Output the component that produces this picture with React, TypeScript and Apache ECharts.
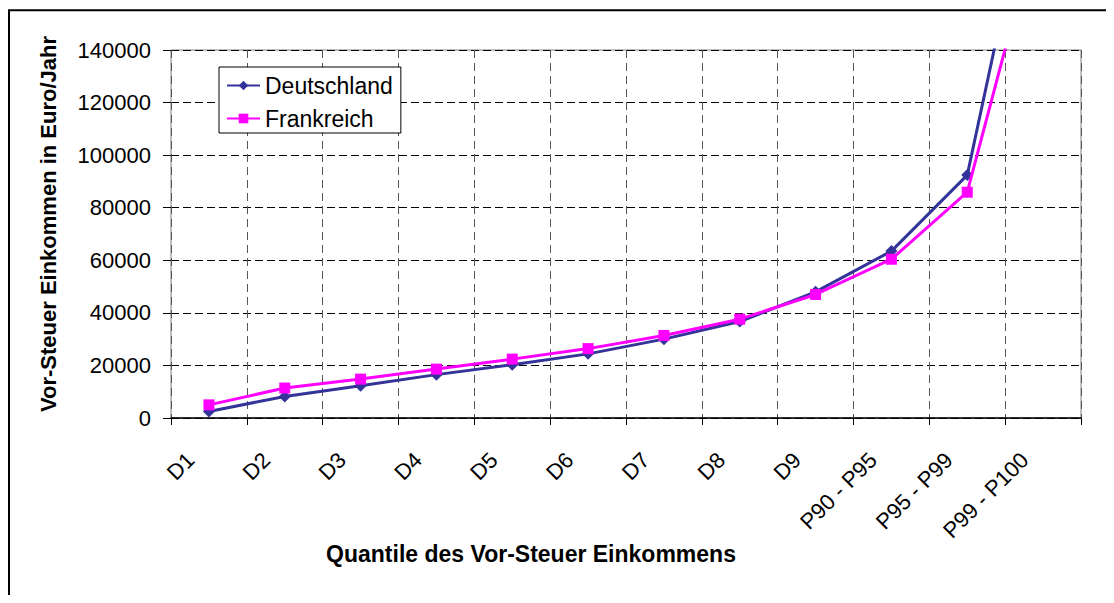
import React, { useEffect, useRef } from "react";
import * as echarts from "echarts";

const categories = ["D1", "D2", "D3", "D4", "D5", "D6", "D7", "D8", "D9", "P90 - P95", "P95 - P99", "P99 - P100"];
const deutschland = [2500, 8200, 12300, 16500, 20300, 24400, 30000, 36700, 48000, 63500, 92400, 227000];
const frankreich = [5000, 11400, 14800, 18600, 22400, 26400, 31400, 37600, 47000, 60400, 85900, 195000];
const yMin = 0;
const yMax = 140000;
const yStep = 20000;

const FONT = "'Liberation Sans', Arial, sans-serif";

export default function App() {
  const ref = useRef<HTMLDivElement>(null);
  useEffect(() => {
    if (!ref.current) return;
    const chart = echarts.init(ref.current, null, { renderer: "svg" });
    chart.setOption({
      animation: false,
      backgroundColor: "#fff",
      textStyle: { fontFamily: FONT },
      grid: {
        left: 163,
        top: 42,
        width: 910,
        height: 368,
        show: true,
        borderColor: "#808080",
        borderWidth: 1,
        backgroundColor: "transparent",
      },
      legend: {
        orient: "vertical",
        left: 211,
        top: 59,
        padding: [7, 8, 3, 7],
        itemGap: 10,
        itemWidth: 33,
        itemHeight: 12,
        backgroundColor: "#fff",
        borderColor: "#000",
        borderWidth: 1,
        borderRadius: 0,
        textStyle: { fontSize: 23, color: "#000", fontFamily: FONT },
        data: ["Deutschland", "Frankreich"],
      },
      xAxis: {
        type: "category",
        data: categories,
        boundaryGap: true,
        axisLine: { show: true, lineStyle: { color: "#000", width: 1.5 } },
        axisTick: { show: true, length: 7, inside: false, lineStyle: { color: "#000" } },
        axisLabel: {
          rotate: 45,
          interval: 0,
          margin: 20,
          padding: [0, 26, 0, 0],
          fontSize: 22,
          color: "#000",
          fontFamily: FONT,
        },
        splitLine: { show: true, lineStyle: { color: "#555", type: [8, 5], width: 1 } },
      },
      yAxis: {
        type: "value",
        min: yMin,
        max: yMax,
        interval: yStep,
        axisLine: { show: false },
        axisTick: { show: true, length: 8, lineStyle: { color: "#000" } },
        axisLabel: {
          margin: 20,
          fontSize: 22,
          color: "#000",
          fontFamily: FONT,
          formatter: (v: number) => String(v),
        },
        splitLine: { show: true, lineStyle: { color: "#000", type: [8, 4], width: 1 } },
      },
      graphic: [
        {
          type: "rect",
          silent: true,
          z: -1,
          shape: { x: 1, y: 2.3, width: 3000, height: 3000 },
          style: { fill: "none", stroke: "#000", lineWidth: 2 },
        },
        {
          type: "text",
          x: 40,
          y: 216,
          rotation: Math.PI / 2,
          style: {
            text: "Vor-Steuer Einkommen in Euro/Jahr",
            fontSize: 22,
            fontWeight: "bold",
            fontFamily: FONT,
            fill: "#000",
            align: "center",
            verticalAlign: "middle",
          },
        },
        {
          type: "text",
          x: 523,
          y: 546,
          style: {
            text: "Quantile des Vor-Steuer Einkommens",
            fontSize: 23,
            fontWeight: "bold",
            fontFamily: FONT,
            fill: "#000",
            align: "center",
            verticalAlign: "middle",
          },
        },
      ],
      series: [
        {
          name: "Deutschland",
          type: "line",
          data: deutschland,
          symbol: "diamond",
          symbolSize: 12,
          clip: true,
          itemStyle: { color: "#333399" },
          lineStyle: { color: "#333399", width: 3 },
          z: 3,
        },
        {
          name: "Frankreich",
          type: "line",
          data: frankreich,
          symbol: "rect",
          symbolSize: 11,
          clip: true,
          itemStyle: { color: "#FF00FF" },
          lineStyle: { color: "#FF00FF", width: 3 },
          z: 4,
        },
      ],
    });
    return () => chart.dispose();
  }, []);
  return <div ref={ref} style={{ width: "100%", height: 587 }} />;
}
